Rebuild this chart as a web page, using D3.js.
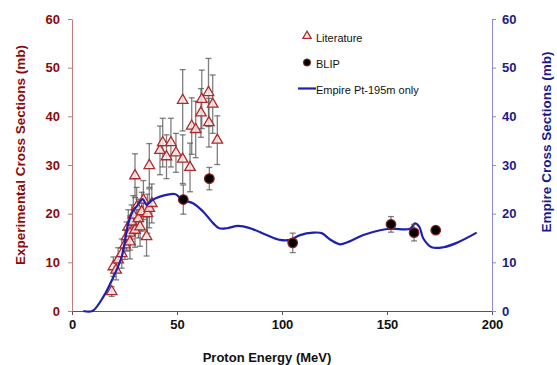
<!DOCTYPE html>
<html>
<head>
<meta charset="utf-8">
<script src="https://cdn.jsdelivr.net/npm/d3@7"></script>
<style>
  body { margin: 0; background: #fff; }
  svg { display: block; font-family: "Liberation Sans", Arial, sans-serif; }
</style>
</head>
<body>
<svg width="557" height="365"></svg>
<script>
// literature points: energy (MeV), cross section (mb), error
const litE = [18.9, 19.7, 21, 22, 23.7, 25.2, 26, 26.8, 27.6, 27.6, 28.4, 29.2, 30, 30.8, 31.6, 32.4, 33.2, 34, 35.5, 35.9, 36.8, 38,
  30, 36.8, 41.9, 43.2, 45, 47.1, 49.5, 52.7, 52.7, 56.2, 57, 58.9, 61.8, 61.4, 65, 65.2, 67, 69.2]
const litY = [4.0, 9.1, 8.4, 10.5, 11.8, 13.6, 15.3, 17.3, 16, 14.2, 18.3, 19.7, 16.6, 21.4, 19, 17.3, 20.4, 22.8, 15.3, 20, 21.1, 22.1,
  27.8, 29.9, 33, 34.6, 31.7, 34.6, 32.5, 43.3, 31.2, 29.5, 38, 37.3, 43.5, 40.7, 44.9, 38.7, 42.5, 35.1]
const litErr = [1.0, 2, 2, 2.5, 3, 3, 3, 3.5, 3.5, 3.5, 3.5, 4, 3.5, 4, 4, 4, 4, 4, 4, 4, 4, 4,
  4.5, 4.5, 5, 5, 4.5, 5, 4, 6.3, 5, 5, 5.8, 5.8, 6, 5, 7, 5, 6, 5]

// BLIP measurements
const blipE = [53, 65.4, 105.1, 151.9, 162.9, 173.2]
const blipY = [22.9, 27.2, 14.0, 17.8, 16.1, 16.6]
const blipErr = [3, 2.3, 2, 1.6, 1.7, 0]

// Empire calculation (right axis)
const empE = [5.4, 9.7, 14.9, 19.7, 23.7, 26.8, 29.2, 31, 33.7, 35.5, 37.9, 41.9, 49.3, 52.2, 57.8, 62.5, 67.3, 70.1, 73.7, 79.2, 84.8,
  92.7, 99, 103.8, 108.6, 114.9, 118.9, 122.9, 127.6, 131.6, 138.7, 146.7, 152.2, 161, 163.3, 165.4, 167.3, 171.3, 176.8, 183.2, 192.7]
const empY = [0, 0, 2.9, 7, 11.2, 18, 20.7, 21.6, 23.0, 21.8, 22.7, 23.5, 24.0, 22.9, 22.1, 20.4, 18, 17, 17, 17.5, 17,
  15.6, 14.6, 14.6, 15.6, 16.1, 16, 14.7, 13.7, 14.2, 15.6, 16.6, 16.9, 16.9, 18, 17.3, 14.9, 13.1, 13.1, 14.0, 16.1]

const xTicks = [0, 50, 100, 150, 200]
const yTicks = [0, 10, 20, 30, 40, 50, 60]

const margin = {top: 19, right: 65, bottom: 54, left: 72}
const width = 557, height = 365

const svg = d3.select("svg")

const x = d3.scaleLinear().domain([0, 200]).range([margin.left, width - margin.right])
const y = d3.scaleLinear().domain([0, 60]).range([height - margin.bottom, margin.top])
const yR = d3.scaleLinear().domain([0, 60]).range([height - margin.bottom, margin.top])

const red = "#8b0a0a", navy = "#1a1a8c"

// axes
svg.append("g")
  .attr("transform", `translate(0,${height - margin.bottom})`)
  .call(d3.axisBottom(x).tickValues(xTicks).tickSize(4).tickPadding(5).tickSizeOuter(0))
  .call(g => g.select(".domain").attr("stroke", "#555"))
  .call(g => g.selectAll(".tick line").attr("stroke", "#555"))
  .call(g => g.selectAll(".tick text").attr("fill", "#111").attr("font-size", 13).attr("font-weight", "bold"))

svg.append("g")
  .attr("transform", `translate(${margin.left},0)`)
  .call(d3.axisLeft(y).tickValues(yTicks).tickSize(4).tickPadding(8).tickSizeOuter(0))
  .call(g => g.select(".domain").attr("stroke", "#c87a7a"))
  .call(g => g.selectAll(".tick line").attr("stroke", "#c87a7a"))
  .call(g => g.selectAll(".tick text").attr("fill", red).attr("font-size", 13).attr("font-weight", "bold"))

svg.append("g")
  .attr("transform", `translate(${width - margin.right},0)`)
  .call(d3.axisRight(yR).tickValues(yTicks).tickSize(4).tickPadding(6).tickSizeOuter(0))
  .call(g => g.select(".domain").attr("stroke", "#8a8ad8"))
  .call(g => g.selectAll(".tick line").attr("stroke", "#8a8ad8"))
  .call(g => g.selectAll(".tick text").attr("fill", navy).attr("font-size", 13).attr("font-weight", "bold"))

// axis titles
svg.append("text")
  .attr("transform", `translate(20,155) rotate(-90)`)
  .attr("text-anchor", "middle").attr("dominant-baseline", "central")
  .attr("font-size", 13.5).attr("font-weight", "bold").attr("fill", red)
  .text("Experimental Cross Sections (mb)")

svg.append("text")
  .attr("transform", `translate(546,142) rotate(-90)`)
  .attr("text-anchor", "middle").attr("dominant-baseline", "central")
  .attr("font-size", 13.5).attr("font-weight", "bold").attr("fill", navy)
  .text("Empire Cross Sections (mb)")

svg.append("text")
  .attr("x", 267).attr("y", 357)
  .attr("text-anchor", "middle").attr("dominant-baseline", "central")
  .attr("font-size", 13).attr("font-weight", "bold").attr("fill", "#111")
  .text("Proton Energy (MeV)")

// error bars helper
function errorBars(g, E, Y, Err, color) {
  const idx = d3.range(E.length).filter(i => Err[i] > 0)
  const bars = g.selectAll("g").data(idx).join("g")
    .attr("stroke", color).attr("stroke-width", 1.3).attr("stroke-opacity", 0.75)
  bars.append("line")
    .attr("x1", i => x(E[i])).attr("x2", i => x(E[i]))
    .attr("y1", i => y(Y[i] - Err[i])).attr("y2", i => y(Y[i] + Err[i]))
  bars.append("line")
    .attr("x1", i => x(E[i]) - 3).attr("x2", i => x(E[i]) + 3)
    .attr("y1", i => y(Y[i] + Err[i])).attr("y2", i => y(Y[i] + Err[i]))
  bars.append("line")
    .attr("x1", i => x(E[i]) - 3).attr("x2", i => x(E[i]) + 3)
    .attr("y1", i => y(Y[i] - Err[i])).attr("y2", i => y(Y[i] - Err[i]))
}

// literature
errorBars(svg.append("g"), litE, litY, litErr, "#555")
const tri = d3.symbol().type(d3.symbolTriangle).size(48)
svg.append("g").selectAll("path")
  .data(d3.range(litE.length))
  .join("path")
  .attr("d", tri)
  .attr("transform", i => `translate(${x(litE[i])},${y(litY[i])})`)
  .attr("fill", "#fbeaea").attr("fill-opacity", 0.8)
  .attr("stroke", "#b02a2a").attr("stroke-width", 1.3)

// empire line
const line = d3.line()
  .x((d, i) => x(empE[i]))
  .y((d, i) => yR(empY[i]))
  .curve(d3.curveCatmullRom.alpha(0.5))
svg.append("path")
  .datum(empE)
  .attr("d", line)
  .attr("fill", "none").attr("stroke", "#1f1fb0").attr("stroke-width", 2.2)

// BLIP
errorBars(svg.append("g"), blipE, blipY, blipErr, "#555")
svg.append("g").selectAll("circle")
  .data(d3.range(blipE.length))
  .join("circle")
  .attr("cx", i => x(blipE[i])).attr("cy", i => y(blipY[i]))
  .attr("r", 4.8)
  .attr("fill", "#000").attr("stroke", "#8b2020").attr("stroke-width", 1.2)

// legend
const lg = svg.append("g").attr("font-size", 11).attr("fill", "#111")
lg.append("path").attr("d", d3.symbol().type(d3.symbolTriangle).size(30))
  .attr("transform", "translate(307,36)")
  .attr("fill", "#fbeaea").attr("stroke", "#b02a2a").attr("stroke-width", 1.3)
lg.append("text").attr("x", 316).attr("y", 38).attr("dominant-baseline", "central").text("Literature")
lg.append("circle").attr("cx", 307).attr("cy", 62.5).attr("r", 3.6)
  .attr("fill", "#000").attr("stroke", "#8b2020").attr("stroke-width", 1)
lg.append("text").attr("x", 316).attr("y", 64).attr("dominant-baseline", "central").text("BLIP")
lg.append("line").attr("x1", 298).attr("x2", 316).attr("y1", 88.5).attr("y2", 88.5)
  .attr("stroke", "#1f1fb0").attr("stroke-width", 2.2)
lg.append("text").attr("x", 316).attr("y", 90).attr("dominant-baseline", "central").text("Empire Pt-195m only")
</script>
</body>
</html>
